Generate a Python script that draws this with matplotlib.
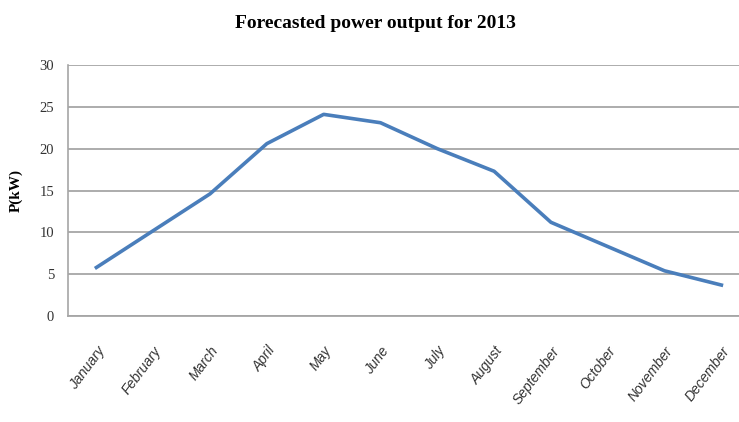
import numpy as np
import matplotlib
matplotlib.use('Agg')
from matplotlib import pyplot as plt

# data
months = ['January', 'February', 'March', 'April', 'May', 'June', 'July',
          'August', 'September', 'October', 'November', 'December']
power_kw = [5.8, 10.2, 14.6, 20.6, 24.1, 23.1, 20.0, 17.3, 11.2, 8.3, 5.4, 3.7]
yticks = [0, 5, 10, 15, 20, 25, 30]

fig = plt.figure(figsize=(7.39, 4.22), dpi=100)
ax = fig.add_axes([68/739, 1 - 316/422, 1 - 68/739, (316 - 65)/422])

x = np.arange(len(months))
ax.plot(x, power_kw, color='#4a7ebb', linewidth=2.6, solid_joinstyle='round')

ax.set_ylim(0, 30)
ax.set_xlim(-0.5, 11.31)
ax.set_yticks(yticks)
ax.set_yticklabels([str(v) for v in yticks], family='Liberation Serif',
                   fontsize=10.5, color='#333333')
ax.set_xticks(x)
ax.set_xticklabels(months, rotation=53, ha='right', rotation_mode='anchor',
                   family='Liberation Sans', style='italic', fontsize=10,
                   color='#333333')
ax.tick_params(axis='y', length=0, pad=10)
ax.tick_params(axis='x', length=0, pad=20)

ax.grid(axis='y', color='#a6a6a6', linewidth=1.3)
ax.set_axisbelow(True)
for side in ['top', 'right']:
    ax.spines[side].set_visible(False)
ax.spines['left'].set_color('#a6a6a6')
ax.spines['bottom'].set_color('#a6a6a6')
ax.spines['left'].set_linewidth(1.2)
ax.spines['bottom'].set_linewidth(1.3)

ax.set_ylabel('P(kW)', family='Liberation Serif', fontweight='bold',
              fontsize=11, labelpad=12)
fig.text(0.508, 1 - 24/422, 'Forecasted power output for 2013',
         ha='center', va='center', family='Liberation Serif',
         fontweight='bold', fontsize=14)

fig.savefig('out.png', dpi=100)
